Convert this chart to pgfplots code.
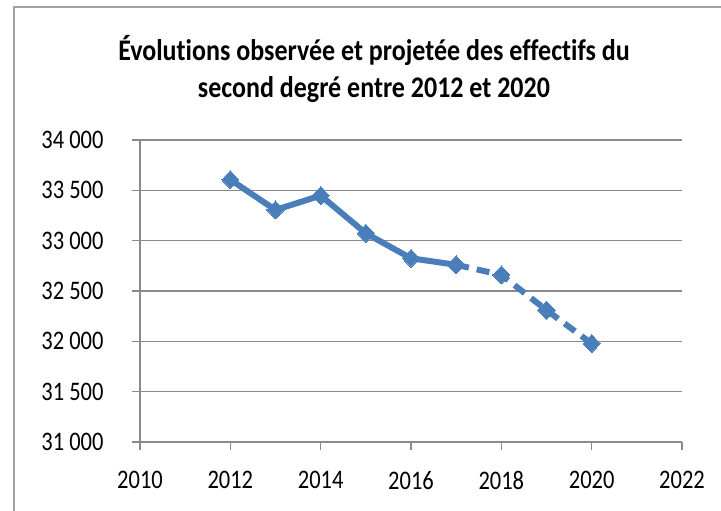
\documentclass[border=0pt]{standalone}
\usepackage{pgfplots}
\pgfplotsset{compat=1.18}
\usepackage{fontspec}
\setmainfont[Ligatures=NoCommon]{Carlito}
\definecolor{excelblue}{HTML}{4A7EBB}
\definecolor{gridgray}{HTML}{8A8A8A}
\begin{document}
\begin{tikzpicture}[x=1pt,y=1pt]
\path[use as bounding box] (0,0) rectangle (721,511);
\draw[gridgray!80, line width=1.2pt] (14,-10) -- (14,504) -- (740,504);
\node[font=\fontsize{26}{30}\selectfont\bfseries] at (374,461) {\scalebox{1}[1.15]{Évolutions observée et projetée des effectifs du}};
\node[font=\fontsize{26}{30}\selectfont\bfseries] at (374,421) {\scalebox{1}[1.15]{second degré entre 2012 et 2020}};
\begin{axis}[at={(140pt,69pt)}, anchor=south west, scale only axis,
  width=542pt, height=302pt,
  xmin=2010, xmax=2022, ymin=31000, ymax=34000,
  xtick={2010,2012,...,2022}, ytick={31000,31500,...,34000},
  scaled y ticks=false,
  axis lines*=left,
  axis line style={gridgray, line width=1.3pt},
  ymajorgrids, grid style={gridgray, line width=1.3pt},
  tick align=outside, major tick length=8pt,
  tick style={gridgray, line width=1.3pt},
  /pgf/number format/assume math mode=true,
  ticklabel style={font=\fontsize{22.5}{26}\selectfont},
  xticklabel={\scalebox{1}[1.19]{\pgfmathprintnumber[1000 sep={}]{\tick}}},
  yticklabel={\scalebox{1}[1.19]{\pgfmathprintnumber[1000 sep={\ },fixed]{\tick}}},
  yticklabel style={xshift=-25pt},
  xticklabel style={yshift=-18pt},
  clip=false]
\addplot[excelblue, line width=6pt, line join=round, mark=diamond*, mark size=10pt, mark options={solid, line width=0pt, xscale=1.15, yscale=0.9}]
  coordinates {(2012,33606) (2013,33305) (2014,33448) (2015,33073) (2016,32825) (2017,32760)};
\addplot[excelblue, line width=6pt, dash pattern=on 13pt off 8pt, mark=diamond*, mark size=10pt, mark options={solid, line width=0pt, xscale=1.15, yscale=0.9}]
  coordinates {(2017,32760) (2018,32660) (2019,32310) (2020,31978)};
\end{axis}
\end{tikzpicture}
\end{document}
